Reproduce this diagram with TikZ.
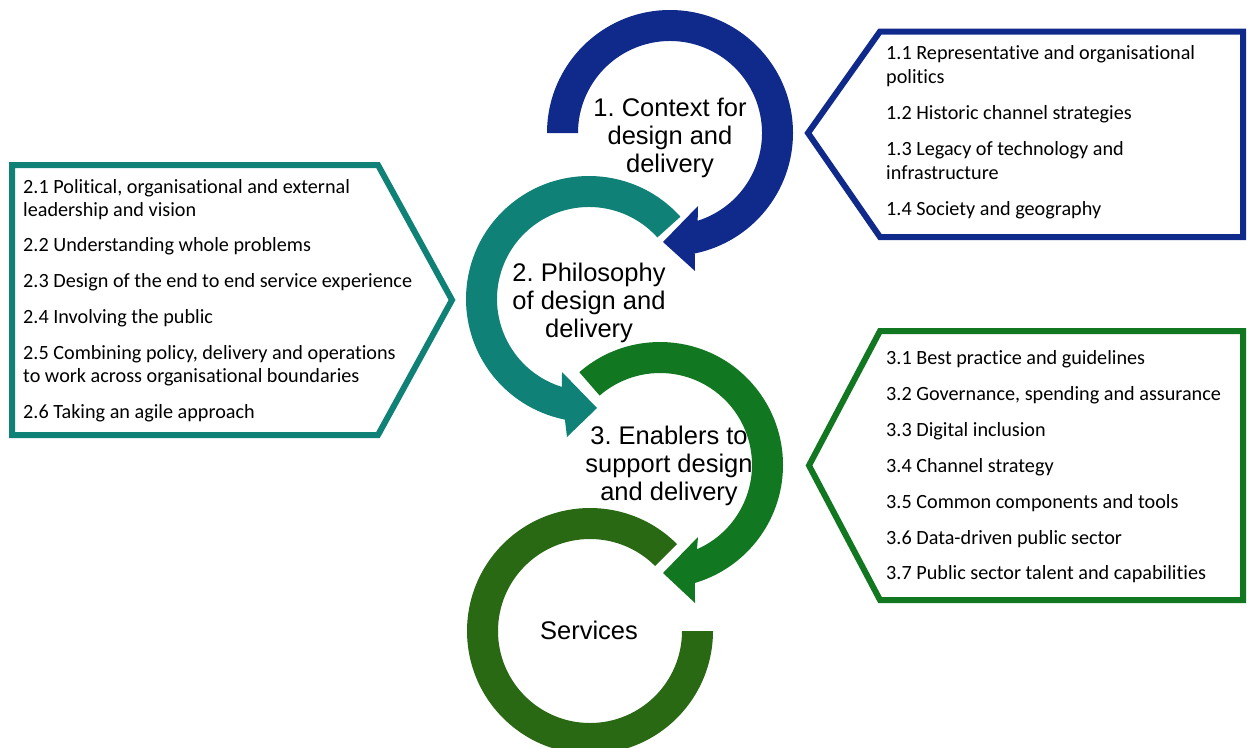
\documentclass[tikz,border=0pt]{standalone}
\usepackage{fontspec}
\setmainfont{Liberation Sans}
\newfontfamily\itemfont[Ligatures=NoCommon]{Carlito}
\usetikzlibrary{calc}
\definecolor{ctxblue}{RGB}{16,42,140}
\definecolor{philteal}{RGB}{15,129,118}
\definecolor{enabgreen}{RGB}{17,119,32}
\definecolor{servgreen}{RGB}{42,105,19}
\frenchspacing
\begin{document}
\begin{tikzpicture}[x=1pt,y=1pt,
  ring label/.style={align=center, inner sep=0pt, text=black,
    font=\fontsize{25.5}{28}\selectfont},
  item/.style={anchor=base west, inner sep=0pt, text=black,
    font=\itemfont\fontsize{20.2}{24}\selectfont},
  panel/.style={line width=6pt, miter limit=10, fill=white}]
\clip (0,0) rectangle (1247,-747);

% centres of the four rings
\coordinate (cb) at (670,-133);
\coordinate (ct) at (589,-299);
\coordinate (cg) at (660,-465);
\coordinate (cs) at (590,-631);

% ring 1: context (clockwise, arrow at the bottom pointing left)
\fill[ctxblue] ($(cb)+(180:123)$) arc[start angle=180, end angle=-78.4, radius=123]
  -- (695,-271) -- (663,-242) -- (698,-206)
  -- ($(cb)+(-72.5:92)$) arc[start angle=-72.5, end angle=180, radius=92] -- cycle;

% ring 2: philosophy (anticlockwise, arrow at the bottom pointing right)
\fill[philteal] ($(ct)+(42:123)$) arc[start angle=42, end angle=258.7, radius=123]
  -- (567,-437) -- (597,-408) -- (562,-372)
  -- ($(ct)+(252.9:92)$) arc[start angle=252.9, end angle=42, radius=92] -- cycle;

% ring 3: enablers (clockwise, arrow at the bottom pointing left)
\fill[enabgreen] ($(cg)+(131:123)$) arc[start angle=131, end angle=-73.5, radius=123]
  -- (695,-603) -- (663,-573) -- (698,-537)
  -- ($(cg)+(-66.3:92)$) arc[start angle=-66.3, end angle=131, radius=92] -- cycle;

% ring 4: services
\fill[servgreen] ($(cs)+(45:123)$) arc[start angle=45, end angle=360, radius=123]
  -- ($(cs)+(0:92)$) arc[start angle=360, end angle=45, radius=92] -- cycle;

% ring labels
\node[ring label] (l1) at (670,-137.5) {1. Context for\\design and\\delivery};
\node[ring label] (l2) at (589,-303) {2. Philosophy\\of design and\\delivery};
\node[ring label] (l3) at (669,-466) {3. Enablers to\\support design\\and delivery};
\node[ring label] (l4) at (589,-630) {Services};

% side panels
\draw[panel, draw=ctxblue] (808,-133) -- (880,-31.5) -- (1243,-31.5)
  -- (1243,-237) -- (880,-237) -- cycle;
\draw[panel, draw=philteal] (12,-165) -- (378,-165) -- (452,-300)
  -- (378,-435) -- (12,-435) -- cycle;
\draw[panel, draw=enabgreen] (809,-465.5) -- (880,-331) -- (1243,-331)
  -- (1243,-600) -- (880,-600) -- cycle;

% panel 1 items
\node[item] (p11a) at (886,-59)  {1.1 Representative and organisational};
\node[item] (p11b) at (886,-83)  {politics};
\node[item] (p12)  at (886,-119) {1.2 Historic channel strategies};
\node[item] (p13a) at (886,-155) {1.3 Legacy of technology and};
\node[item] (p13b) at (886,-179) {infrastructure};
\node[item] (p14)  at (886,-215) {1.4 Society and geography};

% panel 2 items
\node[item] (p21a) at (23,-193) {2.1 Political, organisational and external};
\node[item] (p21b) at (23,-216) {leadership and vision};
\node[item] (p22)  at (23,-251) {2.2 Understanding whole problems};
\node[item] (p23)  at (23,-287) {2.3 Design of the end to end service experience};
\node[item] (p24)  at (23,-323) {2.4 Involving the public};
\node[item] (p25a) at (23,-359) {2.5 Combining policy, delivery and operations};
\node[item] (p25b) at (23,-382) {to work across organisational boundaries};
\node[item] (p26)  at (23,-418) {2.6 Taking an agile approach};

% panel 3 items
\node[item] (p31) at (886,-364) {3.1 Best practice and guidelines};
\node[item] (p32) at (886,-400) {3.2 Governance, spending and assurance};
\node[item] (p33) at (886,-436) {3.3 Digital inclusion};
\node[item] (p34) at (886,-472) {3.4 Channel strategy};
\node[item] (p35) at (886,-508) {3.5 Common components and tools};
\node[item] (p36) at (886,-544) {3.6 Data-driven public sector};
\node[item] (p37) at (886,-579) {3.7 Public sector talent and capabilities};
\end{tikzpicture}
\end{document}
